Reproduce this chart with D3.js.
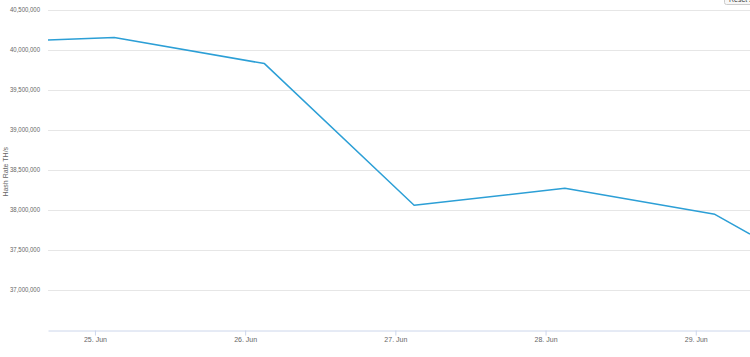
<!DOCTYPE html>
<html>
<head>
<meta charset="utf-8">
<script src="https://cdn.jsdelivr.net/npm/d3@7"></script>
<style>
  body { margin: 0; background: #fff; }
  svg { display: block; font-family: "Liberation Sans", "DejaVu Sans", sans-serif; }
</style>
</head>
<body>
<div id="chart"></div>
<script>
// hash rate readings (TH/s)
const times = ["2024-06-24T16:30", "2024-06-25T03:05", "2024-06-26T03:05", "2024-06-27T03:00",
               "2024-06-28T03:05", "2024-06-29T03:03", "2024-06-29T08:40"];
const hashRates = [40120000, 40150000, 39825000, 38057000, 38269000, 37944000, 37698000];
const yTicks = [37000000, 37500000, 38000000, 38500000, 39000000, 39500000, 40000000, 40500000];
const xTicks = ["2024-06-25", "2024-06-26", "2024-06-27", "2024-06-28", "2024-06-29"];

const width = 750, height = 357;
const margin = { top: 9.5, right: 0, bottom: 27, left: 48 };

const parseTime = d3.utcParse("%Y-%m-%dT%H:%M");
const parseDay = d3.utcParse("%Y-%m-%d");
const data = times.map((t, i) => ({ date: parseTime(t), value: hashRates[i] }));

const svg = d3.select("#chart")
    .append("svg")
    .attr("width", width)
    .attr("height", height);

const xScale = d3.scaleUtc()
    .domain(d3.extent(data, d => d.date))
    .range([margin.left, width - margin.right]);

const yScale = d3.scaleLinear()
    .domain([36500000, 40500000])
    .range([height - margin.bottom, margin.top]);

// gridlines
svg.append("g")
    .selectAll("line")
    .data(yTicks)
    .enter()
    .append("line")
    .attr("x1", margin.left)
    .attr("x2", width)
    .attr("y1", d => Math.round(yScale(d)) + 0.5)
    .attr("y2", d => Math.round(yScale(d)) + 0.5)
    .attr("stroke", "#e6e6e6");

// y labels
svg.append("g")
    .selectAll("text")
    .data(yTicks)
    .enter()
    .append("text")
    .attr("x", 40)
    .attr("y", d => yScale(d) + 2.5)
    .attr("text-anchor", "end")
    .attr("font-size", "7px")
    .attr("textLength", 30)
    .attr("lengthAdjust", "spacingAndGlyphs")
    .attr("fill", "#666")
    .text(d => d3.format(",")(d));

// y title
svg.append("text")
    .attr("transform", "translate(8," + ((margin.top + height - margin.bottom) / 2 + 2) + ") rotate(-90)")
    .attr("text-anchor", "middle")
    .attr("font-size", "7px")
    .attr("fill", "#666")
    .text("Hash Rate TH/s");

// x axis
const xAxis = svg.append("g")
    .attr("transform", "translate(0," + (Math.round(yScale(36500000)) + 0.5) + ")")
    .call(d3.axisBottom(xScale)
        .tickValues(xTicks.map(parseDay))
        .tickFormat(d3.utcFormat("%d. %b"))
        .tickSize(5)
        .tickSizeOuter(0)
        .tickPadding(2));

xAxis.select(".domain").attr("stroke", "#ccd6eb");
xAxis.selectAll(".tick line").attr("stroke", "#ccd6eb");
xAxis.selectAll(".tick text")
    .attr("fill", "#666")
    .attr("font-size", "7px")
    .attr("font-family", "\"Liberation Sans\", \"DejaVu Sans\", sans-serif");

// line
const line = d3.line()
    .x(d => xScale(d.date))
    .y(d => yScale(d.value));

svg.append("path")
    .datum(data)
    .attr("d", line)
    .attr("fill", "none")
    .attr("stroke", "#2c9fd6")
    .attr("stroke-width", 1.5)
    .attr("stroke-linejoin", "round");

// clipped button in the top right corner
svg.append("rect")
    .attr("x", 724.5)
    .attr("y", -14.5)
    .attr("width", 40)
    .attr("height", 19)
    .attr("rx", 2)
    .attr("fill", "#f7f7f7")
    .attr("stroke", "#cccccc");

svg.append("text")
    .attr("x", 729)
    .attr("y", 2)
    .attr("font-size", "7px")
    .attr("fill", "#444")
    .text("Reset zoom");
</script>
</body>
</html>
